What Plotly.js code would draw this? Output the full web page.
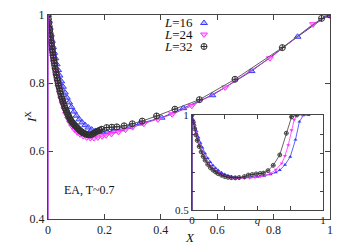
<!DOCTYPE html>
<html>
<head>
<meta charset="utf-8">
<script src="https://cdn.plot.ly/plotly-3.0.1.min.js"></script>
<style>html,body{margin:0;padding:0;background:#fff;}#chart{width:353px;height:247px;}</style>
</head>
<body>
<div id="chart"></div>
<script>
// Main panel: I^X vs X
var x16 = [0, 0.003, 0.006, 0.010, 0.014, 0.018, 0.022, 0.026, 0.031, 0.036, 0.041, 0.047, 0.053, 0.060, 0.067, 0.075, 0.083, 0.092, 0.101, 0.111, 0.121, 0.132, 0.143, 0.155, 0.168, 0.181, 0.195, 0.21, 0.232, 0.26, 0.29, 0.326, 0.403, 0.48, 0.583, 0.722, 0.885, 0.99, 1.0];
var y16 = [1.000, 0.981, 0.963, 0.943, 0.924, 0.906, 0.889, 0.873, 0.855, 0.838, 0.822, 0.805, 0.789, 0.772, 0.757, 0.743, 0.729, 0.716, 0.704, 0.693, 0.684, 0.676, 0.669, 0.663, 0.659, 0.656, 0.655, 0.656, 0.659, 0.664, 0.671, 0.681, 0.698, 0.726, 0.764, 0.835, 0.936, 0.998, 1.0];

var x24 = [0, 0.003, 0.006, 0.009, 0.012, 0.015, 0.018, 0.021, 0.025, 0.029, 0.033, 0.037, 0.042, 0.047, 0.052, 0.058, 0.064, 0.071, 0.078, 0.086, 0.095, 0.104, 0.114, 0.125, 0.137, 0.150, 0.163, 0.177, 0.192, 0.206, 0.225, 0.25, 0.275, 0.30, 0.34, 0.39, 0.44, 0.51, 0.628, 0.787, 0.94, 1.0];
var y24 = [1.000, 0.976, 0.954, 0.933, 0.913, 0.895, 0.877, 0.861, 0.840, 0.822, 0.805, 0.789, 0.771, 0.754, 0.739, 0.723, 0.709, 0.695, 0.683, 0.672, 0.662, 0.655, 0.649, 0.644, 0.640, 0.638, 0.638, 0.640, 0.643, 0.646, 0.650, 0.656, 0.663, 0.670, 0.680, 0.693, 0.708, 0.733, 0.787, 0.873, 0.973, 1.0];

var x32 = [0, 0.0015, 0.003, 0.0045, 0.006, 0.0075, 0.009, 0.0105, 0.012, 0.0135, 0.015, 0.0165, 0.018, 0.0195, 0.021, 0.0225, 0.024, 0.026, 0.028, 0.030, 0.032, 0.034, 0.036, 0.038, 0.040, 0.0425, 0.045, 0.0475, 0.050, 0.0525, 0.055, 0.058, 0.061, 0.064, 0.067, 0.0705, 0.074, 0.0775, 0.081, 0.085, 0.089, 0.093, 0.097, 0.1015, 0.106, 0.1105, 0.115, 0.120, 0.125, 0.1305, 0.136, 0.1425, 0.149, 0.1555, 0.162, 0.1685, 0.175, 0.1825, 0.19, 0.208, 0.226, 0.244, 0.27, 0.299, 0.334, 0.385, 0.45, 0.537, 0.663, 0.831, 0.97, 1.0];
var y32 = [1.000, 0.988, 0.977, 0.966, 0.956, 0.946, 0.936, 0.926, 0.917, 0.908, 0.899, 0.890, 0.882, 0.874, 0.866, 0.858, 0.851, 0.841, 0.832, 0.823, 0.815, 0.807, 0.799, 0.792, 0.785, 0.776, 0.768, 0.760, 0.753, 0.746, 0.740, 0.733, 0.726, 0.720, 0.714, 0.707, 0.701, 0.695, 0.690, 0.685, 0.681, 0.677, 0.674, 0.670, 0.666, 0.662, 0.659, 0.656, 0.653, 0.651, 0.649, 0.648, 0.647, 0.649, 0.652, 0.655, 0.658, 0.661, 0.664, 0.669, 0.670, 0.671, 0.674, 0.680, 0.688, 0.703, 0.723, 0.751, 0.811, 0.904, 0.99, 1.0];

// Inset: I vs q
var q16 = [0, 0.01, 0.02, 0.035, 0.05, 0.065, 0.08, 0.10, 0.12, 0.14, 0.16, 0.18, 0.20, 0.225, 0.25, 0.275, 0.30, 0.33, 0.36, 0.40, 0.45, 0.50, 0.55, 0.60, 0.64, 0.67, 0.71, 0.75, 0.79, 0.82, 0.85, 0.89];
var i16 = [1, 0.975, 0.95, 0.915, 0.882, 0.853, 0.828, 0.798, 0.773, 0.752, 0.735, 0.721, 0.709, 0.697, 0.688, 0.681, 0.676, 0.672, 0.670, 0.670, 0.672, 0.675, 0.680, 0.688, 0.698, 0.71, 0.738, 0.78, 0.87, 0.965, 0.998, 1.0];

var q24 = [0, 0.01, 0.02, 0.03, 0.045, 0.06, 0.08, 0.10, 0.12, 0.14, 0.16, 0.18, 0.20, 0.225, 0.25, 0.275, 0.30, 0.33, 0.36, 0.40, 0.44, 0.48, 0.52, 0.56, 0.60, 0.64, 0.685, 0.71, 0.735, 0.76, 0.78, 0.80, 0.84];
var i24 = [1, 0.97, 0.94, 0.91, 0.872, 0.84, 0.804, 0.775, 0.752, 0.733, 0.718, 0.705, 0.695, 0.686, 0.679, 0.674, 0.670, 0.667, 0.666, 0.667, 0.669, 0.672, 0.676, 0.682, 0.693, 0.712, 0.746, 0.785, 0.842, 0.92, 0.975, 0.998, 1.0];

var q32 = [0, 0.01, 0.02, 0.03, 0.04, 0.055, 0.07, 0.085, 0.10, 0.12, 0.14, 0.16, 0.18, 0.20, 0.225, 0.25, 0.275, 0.30, 0.33, 0.36, 0.40, 0.43, 0.46, 0.49, 0.52, 0.545, 0.58, 0.62, 0.67, 0.72, 0.76, 0.80];
var i32 = [1, 0.962, 0.928, 0.895, 0.866, 0.834, 0.806, 0.782, 0.762, 0.740, 0.723, 0.710, 0.700, 0.691, 0.683, 0.676, 0.672, 0.670, 0.669, 0.671, 0.676, 0.684, 0.687, 0.690, 0.692, 0.694, 0.707, 0.735, 0.79, 0.904, 0.99, 1.0];

var xTicks = [0, 0.2, 0.4, 0.6, 0.8, 1];
var xTickText = ['0', '0.2', '0.4', '0.6', '0.8', '1'];
var yTicks = [0.4, 0.6, 0.8, 1];
var yTickText = ['0.4', '0.6', '0.8', '1'];
var qTicks = [0, 0.25, 0.5, 0.75, 1];
var qTickText = ['0', '', '<i>q</i>', '', '1'];
var iTicks = [0.5, 0.6, 0.7, 0.8, 0.9, 1];
var iTickText = ['0.5', '', '', '', '', '1'];
var seriesNames = ['<i>L</i>=16', '<i>L</i>=24', '<i>L</i>=32'];

var C16 = '#3a3aff', C24 = '#ff30ff', C32 = '#303030';
var F = 'Liberation Serif, Times New Roman, serif';

var mk16 = {symbol: 'triangle-up', size: 6, color: 'rgba(140,140,255,0.55)', line: {color: C16, width: 1}};
var mk24 = {symbol: 'triangle-down', size: 6, color: 'rgba(255,140,255,0.55)', line: {color: C24, width: 1}};
var mk32 = {symbol: 'circle-cross-open', size: 6, color: C32, line: {color: C32, width: 1}};

var traces = [
  {x: x16, y: y16, mode: 'lines', showlegend: false, line: {color: '#4a3ad0', width: 1}},
  {x: x16, y: y16, mode: 'markers', name: '', legend: 'legend', marker: mk16},
  {x: x24, y: y24, mode: 'lines', showlegend: false, line: {color: '#c040c0', width: 1}},
  {x: x24, y: y24, mode: 'markers', name: '', legend: 'legend2', marker: mk24},
  {x: x32, y: y32, mode: 'lines', showlegend: false, line: {color: '#606060', width: 1}},
  {x: x32, y: y32, mode: 'markers', name: '', legend: 'legend3', marker: mk32},
  {x: q16, y: i16, xaxis: 'x2', yaxis: 'y2', mode: 'lines+markers', showlegend: false,
   line: {color: C16, width: 0.8}, marker: {symbol: 'triangle-up', size: 3.5, color: C16}},
  {x: q24, y: i24, xaxis: 'x2', yaxis: 'y2', mode: 'lines+markers', showlegend: false,
   line: {color: C24, width: 0.8}, marker: {symbol: 'triangle-down', size: 3.5, color: C24}},
  {x: q32, y: i32, xaxis: 'x2', yaxis: 'y2', mode: 'lines+markers', showlegend: false,
   line: {color: '#404040', width: 0.8}, marker: {symbol: 'circle-cross-open', size: 4, color: C32, line: {width: 0.8}}}
];

var axBase = {showline: true, linecolor: '#444', linewidth: 1, mirror: 'ticks', ticks: 'inside',
  showgrid: false, zeroline: false, tickcolor: '#444', tickfont: {family: F, size: 12, color: '#222'}};

function legendAt(py) {
  return {x: 184/353, xanchor: 'left', y: (247 - py) / 247, yanchor: 'middle', bgcolor: 'rgba(0,0,0,0)',
    font: {family: F, size: 8}, itemwidth: 30, tracegroupgap: 0};
}

var layout = {
  width: 353, height: 247,
  margin: {l: 0, r: 0, t: 0, b: 0},
  paper_bgcolor: '#fff', plot_bgcolor: 'rgba(0,0,0,0)',
  font: {family: F, color: '#222'},
  showlegend: true,
  legend: legendAt(23), legend2: legendAt(34.5), legend3: legendAt(46.5),
  xaxis: Object.assign({}, axBase, {domain: [48/353, 330/353], range: [0, 1], tickvals: xTicks, ticktext: xTickText, ticklen: 5,
    anchor: 'y'}),
  yaxis: Object.assign({}, axBase, {domain: [28/247, 232/247], range: [0.4, 1], tickvals: yTicks, ticktext: yTickText, ticklen: 5,
    anchor: 'x'}),
  xaxis2: Object.assign({}, axBase, {domain: [192/353, 323/353], range: [0, 1], tickvals: qTicks, ticktext: qTickText, ticklen: 4,
    anchor: 'y2', tickfont: {family: F, size: 11, color: '#222'}}),
  yaxis2: Object.assign({}, axBase, {domain: [37/247, 132/247], range: [0.5, 1], tickvals: iTicks, ticktext: iTickText, ticklen: 3,
    anchor: 'x2', tickfont: {family: F, size: 11, color: '#222'}}),
  shapes: [
    {type: 'line', xref: 'x', yref: 'y', x0: 0, x1: 0, y0: 0.4, y1: 1, line: {color: '#b040e0', width: 1.5}},
    {type: 'line', xref: 'x2', yref: 'y2', x0: 0, x1: 0, y0: 0.5, y1: 1, line: {color: '#402080', width: 1.5}},
    {type: 'rect', xref: 'x2 domain', yref: 'y2 domain', x0: 0, x1: 1, y0: 0, y1: 1, fillcolor: '#fff', line: {width: 0}, layer: 'below'}
  ],
  annotations: [
    {xref: 'paper', yref: 'paper', x: 195/353, y: (247-23)/247, xanchor: 'right', yanchor: 'middle', showarrow: false,
     text: seriesNames[0], font: {family: F, size: 13, color: '#111'}},
    {xref: 'paper', yref: 'paper', x: 195/353, y: (247-34.5)/247, xanchor: 'right', yanchor: 'middle', showarrow: false,
     text: seriesNames[1], font: {family: F, size: 13, color: '#111'}},
    {xref: 'paper', yref: 'paper', x: 195/353, y: (247-46.5)/247, xanchor: 'right', yanchor: 'middle', showarrow: false,
     text: seriesNames[2], font: {family: F, size: 13, color: '#111'}},
    {xref: 'paper', yref: 'paper', x: 62/353, y: (247-190)/247, xanchor: 'left', yanchor: 'middle', showarrow: false,
     text: 'EA, T~0.7', font: {family: F, size: 12, color: '#111'}},
    {xref: 'paper', yref: 'paper', x: 31/353, y: (247-117)/247, xanchor: 'center', yanchor: 'middle', showarrow: false,
     textangle: -90, text: '<i>I</i><sup>X</sup>', font: {family: F, size: 13, color: '#111'}},
    {xref: 'paper', yref: 'paper', x: 190/353, y: (247-237)/247, xanchor: 'center', yanchor: 'middle', showarrow: false,
     text: '<i>X</i>', font: {family: F, size: 13, color: '#111'}}
  ]
};

Plotly.newPlot('chart', traces, layout, {staticPlot: true, displayModeBar: false});
</script>
</body>
</html>
